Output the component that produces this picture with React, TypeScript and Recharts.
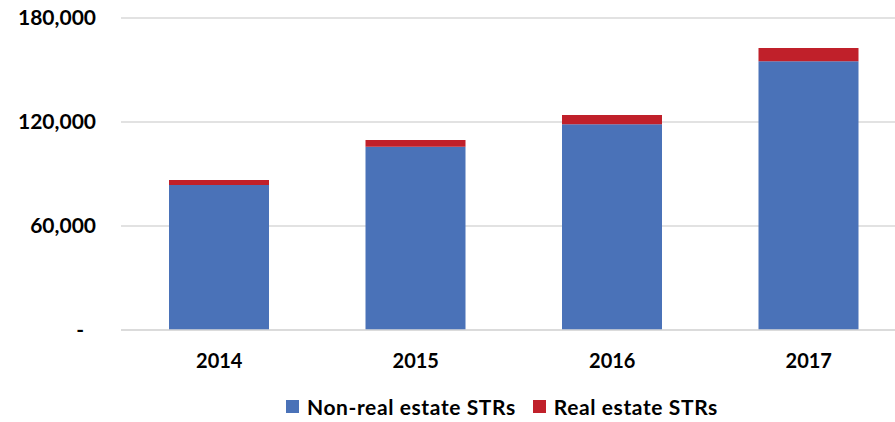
import { BarChart, Bar, XAxis, YAxis, CartesianGrid, Legend } from 'recharts';

const years = ['2014', '2015', '2016', '2017'];
const nonRealEstate = [83700, 105700, 118700, 155000];
const realEstate = [2900, 3900, 5300, 7700];
const yTicks = [0, 60000, 120000, 180000];

const data = years.map((year, i) => ({
  year,
  nonRealEstate: nonRealEstate[i],
  realEstate: realEstate[i],
}));

const BLUE = '#4a72b8';
const RED = '#c0202a';
const FONT = 'Lato, "Open Sans", sans-serif';

const formatTick = (v: number) => (v === 0 ? '-' : v.toLocaleString('en-US'));

// Excel accounting format pads the dash, so nudge the zero label left
function YTick(props: any) {
  const { x, y, payload } = props;
  const v = payload.value as number;
  return (
    <text
      x={v === 0 ? x - 12 : x}
      y={y}
      dy={7}
      textAnchor="end"
      fill="#000"
      fontSize={21}
      fontWeight={700}
      fontFamily={FONT}
    >
      {formatTick(v)}
    </text>
  );
}

function LegendContent() {
  const items = [
    { label: 'Non-real estate STRs', color: BLUE },
    { label: 'Real estate STRs', color: RED },
  ];
  return (
    <div style={{ display: 'flex', alignItems: 'center', fontFamily: FONT, fontWeight: 700, fontSize: 21, letterSpacing: 0.6, color: '#000' }}>
      {items.map((it, i) => (
        <div key={it.label} style={{ display: 'flex', alignItems: 'center', marginRight: i === 0 ? 17 : 0 }}>
          <span style={{ width: 13, height: 13, background: it.color, display: 'inline-block', marginRight: 8 }} />
          <span>{it.label}</span>
        </div>
      ))}
    </div>
  );
}

export default function App() {
  return (
    <div style={{ position: 'absolute', left: 0, top: 0, width: 895, height: 422, overflow: 'hidden', background: '#fff' }}>
      <BarChart
        width={907}
        height={422}
        data={data}
        margin={{ top: 18, right: 0, left: 0, bottom: 0 }}
      >
        <CartesianGrid vertical={false} stroke="#d9d9d9" strokeWidth={1.5} />
        <XAxis
          dataKey="year"
          axisLine={{ stroke: '#d9d9d9', strokeWidth: 1.5 }}
          tickLine={false}
          height={67}
          tickMargin={18}
          tick={{ fill: '#000', fontSize: 20, fontWeight: 700, fontFamily: FONT }}
        />
        <YAxis
          width={121}
          domain={[0, 180000]}
          ticks={yTicks}
          axisLine={false}
          tickLine={false}
          tickMargin={19}
          tick={<YTick />}
        />
        <Legend
          verticalAlign="bottom"
          content={<LegendContent />}
          wrapperStyle={{ left: 286, bottom: 3, width: 'auto' }}
        />
        <Bar dataKey="nonRealEstate" stackId="a" fill={BLUE} barSize={100} isAnimationActive={false} />
        <Bar dataKey="realEstate" stackId="a" fill={RED} barSize={100} isAnimationActive={false} />
      </BarChart>
    </div>
  );
}
